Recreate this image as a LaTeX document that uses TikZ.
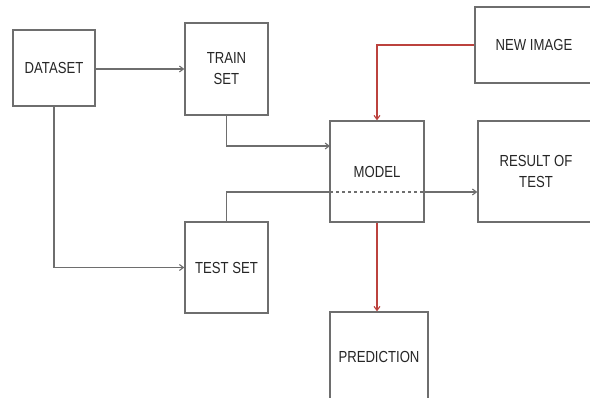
\documentclass[tikz,border=0pt]{standalone}
\usepackage{fontspec}
\setmainfont[FakeStretch=0.82]{Liberation Sans}
\usetikzlibrary{arrows.meta}
\definecolor{linegray}{HTML}{6E6E6E}
\definecolor{flowred}{HTML}{BC423E}
\begin{document}
\begin{tikzpicture}[x=1pt,y=-1pt,
    box/.style={draw=linegray, line width=1.4pt, fill=white, align=center,
      text=black!85, font=\fontsize{16}{21}\selectfont, inner sep=0pt},
    link/.style={draw=linegray, line width=1.1pt, -{Straight Barb[length=4pt,width=6pt]}},
    redlink/.style={link, draw=flowred, line width=1.1pt}]
  \useasboundingbox (0,0) rectangle (590,397);

  \node[box, minimum width=82pt, minimum height=76pt]  (dataset) at (54,68) {DATASET};
  \node[box, minimum width=83pt, minimum height=92pt]  (trainset) at (226.5,69) {TRAIN\\SET};
  \node[box, minimum width=118pt, minimum height=76pt] (newimage) at (534,45) {NEW IMAGE};
  \node[box, minimum width=94pt, minimum height=101pt] (model) at (377,171.5) {MODEL};
  \node[box, minimum width=116pt, minimum height=101pt] (result) at (536,171.5) {RESULT OF\\TEST};
  \node[box, minimum width=83pt, minimum height=91pt]  (testset) at (226.5,267.5) {TEST SET};
  \node[box, minimum width=98pt, minimum height=90pt]  (prediction) at (379,357) {PREDICTION};

  \coordinate (trainin) at (330,146);
  \coordinate (testout) at (330,192);
  \coordinate (testthru) at (424,192);

  \draw[link] (dataset.east |- trainset.west) -- (trainset.west);
  \draw[link] (dataset.south) |- (testset.west);
  \draw[link] (trainset.south) |- (trainin);
  \draw[draw=linegray, line width=1.1pt] (testset.north) |- (testout);
  \draw[draw=linegray, line width=1.1pt, dashed] (testout) -- (testthru);
  \draw[link] (testthru) -- (testthru -| result.west);
  \draw[redlink] (newimage.west) -| (model.north);
  \draw[redlink] (model.south) -- (model.south |- prediction.north);
\end{tikzpicture}
\end{document}
